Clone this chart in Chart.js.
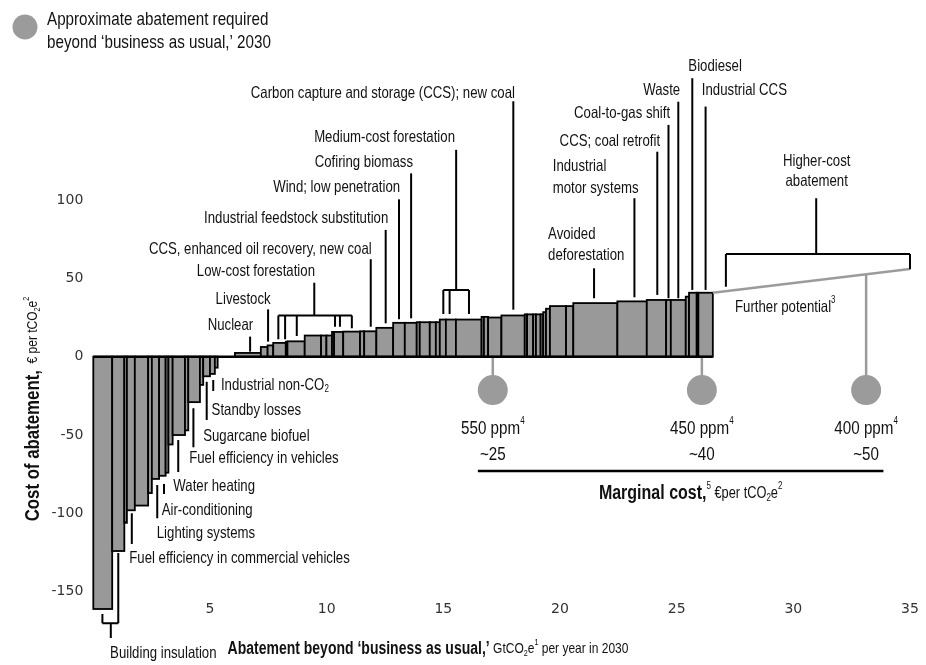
<!DOCTYPE html>
<html>
<head>
<meta charset="utf-8">
<script src="https://cdn.jsdelivr.net/npm/chart.js@4.4.1/dist/chart.umd.min.js"></script>
<style>
  html, body { margin: 0; padding: 0; background: #fff; }
  #wrap { width: 926px; height: 665px; position: relative; }
</style>
</head>
<body>
<div id="wrap"><canvas id="mac"></canvas></div>
<script>
// abatement levers, left to right
// width = GtCO2e per year in 2030, cost = € per tCO2e
const leverWidths = [
  0.81, 0.52, 0.11, 0.34, 0.57, 0.16, 0.31, 0.28, 0.12, 0.18, 0.53, 0.14, 0.50, 0.14, 0.29, 0.21, 0.12,
  0.74,
  1.11, 0.29, 0.24, 0.54, 0.07, 0.74, 0.70, 0.23, 0.24, 0.09, 0.39, 0.72, 0.18, 0.52, 0.72, 0.50,
  0.51, 0.13, 0.43, 0.26, 0.17, 0.26, 0.43, 1.10, 0.10, 0.18, 0.57, 1.00, 0.10, 0.26, 0.12, 0.20,
  0.11, 0.12, 0.17, 0.69, 0.31, 1.89, 1.26, 0.83, 0.20, 0.64, 0.14, 0.33, 0.07, 0.62
];
const leverCosts = [
  -161, -124, -106, -98, -95, -87, -78, -76, -74, -56, -50, -47, -29, -18, -12.5, -11, -7,
  0,
  2.4, 6.2, 7.2, 8.8, 9.5, 9.8, 13.5, 13.5, 13.5, 15.8, 15.8, 16, 16.2, 16.2, 18.4, 21.6,
  21.6, 22, 22, 22, 22, 23.7, 23.7, 23.7, 25.4, 25.4, 25, 26.3, 27, 27, 27, 27,
  27, 28.4, 30.6, 32.3, 32.3, 34.2, 35.3, 36.2, 36.2, 36.2, 38.3, 40.8, 40.8, 40.8
];

// higher-cost potential beyond the curve
const furtherPotentialEnd = { x: 35, y: 56 };

// abatement required by concentration target
const ppmTargets = ['550 ppm', '450 ppm', '400 ppm'];
const ppmAbatement = [17.12, 26.08, 33.12];
const ppmMarginalCost = ['~25', '~40', '~50'];

const xTickValues = [5, 10, 15, 20, 25, 30, 35];
const yTickValues = [-150, -100, -50, 0, 50, 100];

const FONT = '"Liberation Sans", Arial, sans-serif';
const SQUEEZE = 0.8; // condensed look
const GRAY = '#9b9b9b';
const MARKER_Y = -21.3;

// rich text helpers
const R = (t, s) => ({ t, s });
const B = (t, s) => ({ t, s, b: true });
const SUP = (t, s) => ({ t, s, dy: -s * 0.75 });
const SUB = (t, s) => ({ t, s, dy: s * 0.45 });

function drawRich(ctx, parts, x, y, align) {
  const fontOf = p => (p.b ? 'bold ' : '') + p.s + 'px ' + FONT;
  let total = 0;
  const widths = parts.map(p => { ctx.font = fontOf(p); const w = ctx.measureText(p.t).width; total += w; return w; });
  const shown = total * SQUEEZE;
  const startX = align === 'center' ? x - shown / 2 : align === 'right' ? x - shown : x;
  ctx.save();
  ctx.translate(startX, y);
  ctx.scale(SQUEEZE, 1);
  ctx.textAlign = 'left';
  ctx.textBaseline = 'middle';
  let cx = 0;
  parts.forEach((p, i) => {
    ctx.font = fontOf(p);
    ctx.fillText(p.t, cx, p.dy || 0);
    cx += widths[i];
  });
  ctx.restore();
}

// text labels in data coordinates
const LS = 16.5;
const callouts = [
  { t: 'Carbon capture and storage (CCS); new coal', x: 18.07, y: 168.1, a: 'right' },
  { t: 'Medium-cost forestation', x: 15.5, y: 140.0, a: 'right' },
  { t: 'Cofiring biomass', x: 13.70, y: 123.8, a: 'right' },
  { t: 'Wind; low penetration', x: 13.15, y: 107.9, a: 'right' },
  { t: 'Industrial feedstock substitution', x: 12.64, y: 88.3, a: 'right' },
  { t: 'CCS, enhanced oil recovery, new coal', x: 11.93, y: 68.7, a: 'right' },
  { t: 'Low-cost forestation', x: 9.50, y: 54.2, a: 'right' },
  { t: 'Livestock', x: 7.60, y: 36.6, a: 'right' },
  { t: 'Nuclear', x: 6.85, y: 19.8, a: 'right' },
  { t: 'Avoided', x: 19.49, y: 78.3, a: 'left' },
  { t: 'deforestation', x: 19.49, y: 64.9, a: 'left' },
  { t: 'Industrial', x: 19.69, y: 121.7, a: 'left' },
  { t: 'motor systems', x: 19.69, y: 107.5, a: 'left' },
  { t: 'CCS; coal retrofit', x: 24.29, y: 137.2, a: 'right' },
  { t: 'Coal-to-gas shift', x: 24.72, y: 154.9, a: 'right' },
  { t: 'Waste', x: 25.15, y: 169.8, a: 'right' },
  { t: 'Biodiesel', x: 25.50, y: 185.1, a: 'left' },
  { t: 'Industrial CCS', x: 26.08, y: 169.8, a: 'left' },
  { t: 'Higher-cost', x: 31.0, y: 124.4, a: 'center' },
  { t: 'abatement', x: 31.0, y: 111.7, a: 'center' },
  { t: [R('Further potential', LS), SUP('3', 10)], x: 27.5, y: 31.5, a: 'left' },
  { t: [R('Industrial non-CO', LS), SUB('2', 10)], x: 5.47, y: -18.1, a: 'left' },
  { t: 'Standby losses', x: 5.07, y: -34.0, a: 'left' },
  { t: 'Sugarcane biofuel', x: 4.71, y: -51.1, a: 'left' },
  { t: 'Fuel efficiency in vehicles', x: 4.11, y: -64.8, a: 'left' },
  { t: 'Water heating', x: 3.43, y: -82.5, a: 'left' },
  { t: 'Air-conditioning', x: 2.93, y: -97.8, a: 'left' },
  { t: 'Lighting systems', x: 2.72, y: -112.7, a: 'left' },
  { t: 'Fuel efficiency in commercial vehicles', x: 1.54, y: -128.7, a: 'left' },
  { t: 'Building insulation', x: 0.72, y: -189.3, a: 'left' }
];

// leader lines: [x, yFrom, yTo]
const leaders = [
  [18.0, 163, 30], [15.55, 132, 42.6], [13.62, 117, 24.5], [13.10, 100.4, 23.9],
  [12.53, 80.9, 21.3], [11.89, 62.2, 19.1], [9.47, 47.2, 26.3], [7.49, 30.2, 9.6],
  [6.72, 12.8, 3.2], [21.46, 56.4, 37.3], [23.19, 101.1, 37.9], [24.17, 130.8, 39.4],
  [24.65, 147.9, 37.3], [25.07, 162.7, 37.3], [25.67, 177.7, 42.6], [26.24, 159.6, 42.6],
  [30.98, 101.1, 65.5],
  [5.14, -14.9, -21.9], [4.86, -16, -40.4], [4.29, -32.9, -57.8], [3.64, -53.2, -73.6],
  [3.03, -81.2, -87.6], [2.74, -81.9, -103.1], [1.65, -99.9, -119.5], [0.75, -170.1, -179.5]
];

// grouping brackets: horizontal at y from x0 to x1, drops [x, yEnd]
const brackets = [
  { y: 42.6, x0: 15.0, x1: 16.1, drops: [[15.0, 27.2], [15.27, 27.2], [16.1, 27.2]] },
  { y: 26.3, x0: 7.93, x1: 11.08, drops: [[7.93, 11.1], [8.22, 11.1], [8.72, 13.2], [10.36, 19.1], [10.57, 19.1], [11.08, 18.1]] },
  { y: 65.5, x0: 27.11, x1: 35.0, drops: [[27.11, 44.7], [35.0, 55.8]] },
  { y: -170.1, x0: 0.39, x1: 1.07, drops: [[0.39, -164.2], [1.07, -125.3]] }
];

const totalAbatement = leverWidths.reduce((s, w) => s + w, 0);
const lastCost = leverCosts[leverCosts.length - 1];

const curvePlugin = {
  id: 'curve',
  beforeDatasetsDraw(chart) {
    const { ctx, scales: { x, y } } = chart;
    ctx.save();
    // gray stems to the concentration markers
    ctx.strokeStyle = GRAY;
    ctx.lineWidth = 2.5;
    ppmAbatement.forEach(a => {
      let top = 0;
      if (a > totalAbatement) {
        const f = (a - totalAbatement) / (furtherPotentialEnd.x - totalAbatement);
        top = lastCost + f * (furtherPotentialEnd.y - lastCost);
      }
      ctx.beginPath();
      ctx.moveTo(x.getPixelForValue(a), y.getPixelForValue(top));
      ctx.lineTo(x.getPixelForValue(a), y.getPixelForValue(MARKER_Y));
      ctx.stroke();
    });
    // the cost curve bars
    ctx.fillStyle = '#999999';
    ctx.strokeStyle = '#000';
    ctx.lineWidth = 1.8;
    let start = 0;
    leverWidths.forEach((w, i) => {
      const c = leverCosts[i];
      const l = x.getPixelForValue(start), r = x.getPixelForValue(start + w);
      const t = y.getPixelForValue(Math.max(c, 0)), b = y.getPixelForValue(Math.min(c, 0));
      if (c !== 0) {
        ctx.fillRect(l, t, r - l, b - t);
        ctx.strokeRect(l, t, r - l, b - t);
      }
      start += w;
    });
    ctx.lineWidth = 2.5;
    ctx.beginPath();
    ctx.moveTo(x.getPixelForValue(0), y.getPixelForValue(0));
    ctx.lineTo(x.getPixelForValue(totalAbatement), y.getPixelForValue(0));
    ctx.stroke();
    ctx.restore();
  },
  afterDatasetsDraw(chart) {
    const { ctx, scales: { x, y } } = chart;
    const px = v => x.getPixelForValue(v), py = v => y.getPixelForValue(v);
    ctx.save();
    ctx.strokeStyle = '#000';
    ctx.lineWidth = 2;
    leaders.forEach(([lx, y0, y1]) => {
      ctx.beginPath();
      ctx.moveTo(px(lx), py(y0));
      ctx.lineTo(px(lx), py(y1));
      ctx.stroke();
    });
    brackets.forEach(bk => {
      ctx.beginPath();
      ctx.moveTo(px(bk.x0), py(bk.y));
      ctx.lineTo(px(bk.x1), py(bk.y));
      bk.drops.forEach(([dx, dy]) => {
        ctx.moveTo(px(dx), py(bk.y));
        ctx.lineTo(px(dx), py(dy));
      });
      ctx.stroke();
    });

    ctx.fillStyle = '#111';
    callouts.forEach(c => {
      const parts = typeof c.t === 'string' ? [R(c.t, LS)] : c.t;
      drawRich(ctx, parts, px(c.x), py(c.y), c.a);
    });

    // concentration targets
    ppmTargets.forEach((p, i) => {
      drawRich(ctx, [R(p, 19), SUP('4', 10)], px(ppmAbatement[i]), py(-45.7), 'center');
      drawRich(ctx, [R(ppmMarginalCost[i], 19)], px(ppmAbatement[i]), py(-62.7), 'center');
    });
    ctx.lineWidth = 2.5;
    ctx.beginPath();
    ctx.moveTo(px(16.48), py(-72.9));
    ctx.lineTo(px(33.86), py(-72.9));
    ctx.stroke();
    drawRich(ctx, [B('Marginal cost,', 20), SUP('5', 10), R(' €per tCO', 16), SUB('2', 10), R('e', 16), SUP('2', 10)],
      px(25.6), py(-87.6), 'center');
    ctx.restore();
  },
  afterDraw(chart) {
    const { ctx } = chart;
    ctx.save();
    ctx.fillStyle = '#111';
    // axis titles
    ctx.translate(33, 409);
    ctx.rotate(-Math.PI / 2);
    drawRich(ctx, [B('Cost of abatement,', 21), R('  € per tCO', 15), SUB('2', 9), R('e', 15), SUP('2', 9)], 0, 0, 'center');
    ctx.restore();
    ctx.save();
    ctx.fillStyle = '#111';
    drawRich(ctx, [B('Abatement beyond ‘business as usual,’', 17.5), R(' GtCO', 15), SUB('2', 9), R('e', 15), SUP('1', 9),
      R(' per year in 2030', 15)], 428, 649, 'center');
    // legend
    ctx.fillStyle = GRAY;
    ctx.beginPath();
    ctx.arc(25, 27, 12.5, 0, Math.PI * 2);
    ctx.fill();
    ctx.fillStyle = '#111';
    drawRich(ctx, [R('Approximate abatement required', 19)], 47, 20, 'left');
    drawRich(ctx, [R('beyond ‘business as usual,’ 2030', 19)], 47, 43, 'left');
    ctx.restore();
  }
};

new Chart(document.getElementById('mac'), {
  type: 'scatter',
  data: {
    datasets: [
      {
        type: 'line',
        data: [{ x: totalAbatement, y: lastCost }, furtherPotentialEnd],
        borderColor: GRAY,
        borderWidth: 2.5,
        pointRadius: 0,
        fill: false
      },
      {
        data: ppmAbatement.map(a => ({ x: a, y: MARKER_Y })),
        pointRadius: 15,
        pointHoverRadius: 15,
        backgroundColor: GRAY,
        borderWidth: 0
      }
    ]
  },
  options: {
    responsive: true,
    maintainAspectRatio: false,
    animation: false,
    devicePixelRatio: 1,
    layout: { padding: { left: 33.3, top: 184.3, right: 16, bottom: 35.4 } },
    plugins: { legend: { display: false }, tooltip: { enabled: false } },
    scales: {
      x: {
        type: 'linear',
        min: 0,
        max: 35,
        afterBuildTicks: s => { s.ticks = xTickValues.map(v => ({ value: v })); },
        afterFit: s => { s.height = 30; },
        grid: { display: false, drawTicks: false },
        border: { display: false },
        ticks: { padding: 1, color: '#333', font: { family: 'DejaVu Sans', size: 14 } }
      },
      y: {
        min: -155,
        max: 110,
        afterBuildTicks: s => { s.ticks = yTickValues.map(v => ({ value: v })); },
        afterFit: s => { s.width = 60; },
        grid: { display: false, drawTicks: false },
        border: { display: false },
        ticks: { padding: 10, color: '#333', font: { family: 'DejaVu Sans', size: 14 } }
      }
    }
  },
  plugins: [curvePlugin]
});
</script>
</body>
</html>
